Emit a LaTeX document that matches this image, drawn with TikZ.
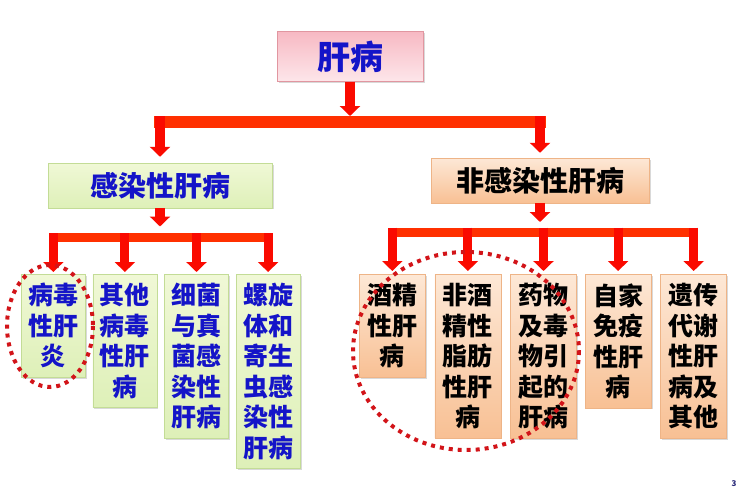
\documentclass[tikz,border=0pt]{standalone}
\usepackage{fontspec}
\setmainfont{Noto Sans CJK SC}
\usetikzlibrary{arrows.meta,positioning,shadows}

\definecolor{barred}{RGB}{255,48,0}
\definecolor{armred}{RGB}{250,10,0}
\definecolor{txtblue}{RGB}{20,20,200}
\definecolor{pinkline}{RGB}{225,150,160}
\definecolor{greenline}{RGB}{195,220,150}
\definecolor{peachline}{RGB}{238,180,135}
\definecolor{ringred}{RGB}{210,20,25}

\begin{document}
\begin{tikzpicture}[x=1pt,y=-1pt,
  box/.style={draw, line width=0.6pt, inner xsep=0pt, inner ysep=9pt, align=center,
    drop shadow={shadow xshift=1.5pt, shadow yshift=-1.5pt, opacity=0.3}},
  rootbox/.style={box, draw=pinkline, top color={rgb,255:red,247;green,185;blue,195},
    bottom color={rgb,255:red,253;green,230;blue,234}, text=txtblue,
    minimum width=146pt, minimum height=47pt, font=\bfseries\fontsize{33}{36}\selectfont},
  infbox/.style={box, draw=greenline, top color={rgb,255:red,240;green,248;blue,214},
    bottom color={rgb,255:red,222;green,240;blue,184}, text=txtblue,
    minimum width=224pt, minimum height=43pt, font=\bfseries\fontsize{28}{32}\selectfont},
  nonbox/.style={box, draw=peachline, top color={rgb,255:red,253;green,232;blue,214},
    bottom color={rgb,255:red,248;green,192;blue,148}, text=black,
    minimum width=218pt, minimum height=43pt, font=\bfseries\fontsize{28}{32}\selectfont},
  leafinf/.style={infbox, minimum width=64pt, minimum height=0pt, anchor=north west,
    font=\bfseries\fontsize{25}{30.5}\selectfont},
  leafnon/.style={nonbox, minimum width=66pt, minimum height=0pt, anchor=north west,
    font=\bfseries\fontsize{25}{30.5}\selectfont},
  bar/.style={draw=barred, line width=12pt, line cap=rect},
  arm/.style={draw=armred, line width=10pt,
    -{Triangle[width=20pt,length=10pt]}},
  ring/.style={draw=ringred, line width=4pt, dash pattern=on 4pt off 5pt}
]
\useasboundingbox (0,0) rectangle (748,498);

% top level
\node[rootbox] (root) at (350,56.5) {肝病};
\node[infbox] (inf) at (160,185.5) {感染性肝病};
\node[nonbox] (non) at (540,180.5) {非感染性肝病};

\coordinate (j0) at (350,122);
\draw[bar] (j0 -| inf) -- (j0 -| non);
\draw[arm] (root.south) -- ([yshift=6pt]j0);
\draw[arm] ([yshift=6pt]j0 -| inf) -- ([yshift=6pt]inf.north);
\draw[arm] ([yshift=6pt]j0 -| non) -- ([yshift=5pt]non.north);

% infectious
\node[leafinf] (i1) at (21,274) {病毒\\性肝\\炎};
\node[leafinf, right=7pt of i1.north east, anchor=north west] (i2) {其他\\病毒\\性肝\\病};
\node[leafinf, right=7pt of i2.north east, anchor=north west] (i3) {细菌\\与真\\菌感\\染性\\肝病};
\node[leafinf, right=7pt of i3.north east, anchor=north west] (i4) {螺旋\\体和\\寄生\\虫感\\染性\\肝病};

\coordinate (j1) at (160,237.5);
\draw[bar, line width=9pt] (j1 -| i1) -- (j1 -| i4);
\draw[arm] (inf.south) -- ([yshift=11pt]j1);
\foreach \n in {i1,i2,i3,i4}
  \draw[arm, line width=9pt] ([yshift=4.5pt]j1 -| \n) -- ([yshift=2pt]\n.north);

% non-infectious
\node[leafnon] (n1) at (359,274) {酒精\\性肝\\病};
\node[leafnon, right=9pt of n1.north east, anchor=north west] (n2) {非酒\\精性\\脂肪\\性肝\\病};
\node[leafnon, right=9pt of n2.north east, anchor=north west] (n3) {药物\\及毒\\物引\\起的\\肝病};
\node[leafnon, right=8pt of n3.north east, anchor=north west] (n4) {自家\\免疫\\性肝\\病};
\node[leafnon, right=9pt of n4.north east, anchor=north west] (n5) {遗传\\代谢\\性肝\\病及\\其他};

\coordinate (j2) at (540,232);
\draw[bar, line width=9pt] (j2 -| n1) -- (j2 -| n5);
\draw[arm] (non.south) -- ([yshift=10pt]j2);
\foreach \n in {n1,n2,n3,n4,n5}
  \draw[arm, line width=9pt] ([yshift=4.5pt]j2 -| \n) -- ([yshift=3pt]\n.north);

% highlighted groups
\draw[ring] (50,326) ellipse [x radius=43, y radius=61];
\draw[ring] (466,351) ellipse [x radius=113, y radius=99];

\node[text={rgb,255:red,40;green,40;blue,120}, font=\bfseries\fontsize{8}{8}\selectfont] (pageno) at (734,484) {3};
\end{tikzpicture}
\end{document}
